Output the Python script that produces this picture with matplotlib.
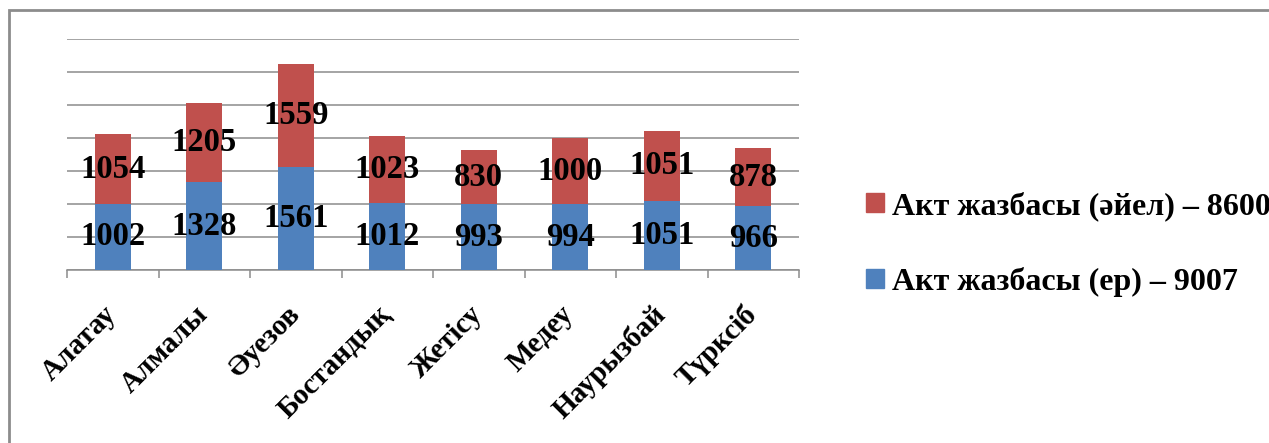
import numpy as np
import matplotlib.pyplot as plt
import matplotlib.transforms as mtransforms
from matplotlib.patches import Rectangle, Patch

plt.rcParams['font.family'] = ['Liberation Serif', 'DejaVu Serif']
plt.rcParams['font.weight'] = 'bold'

districts = ['Алатау', 'Алмалы', 'Әуезов', 'Бостандық', 'Жетісу', 'Медеу', 'Наурызбай', 'Түрксіб']
men = [1002, 1328, 1561, 1012, 993, 994, 1051, 966]
women = [1054, 1205, 1559, 1023, 830, 1000, 1051, 878]
men_label = 'Акт жазбасы (ер) – 9007'
women_label = 'Акт жазбасы (әйел) – 8600'

blue = '#4F81BD'
red = '#C0504D'
grid_col = '#8C8C8C'

fig = plt.figure(figsize=(12.69, 4.43), dpi=100)
ax = fig.add_axes([67 / 1269, 1 - 270 / 443, 732 / 1269, 231 / 443])

x = np.arange(len(districts))
w = 0.39
ax.bar(x, men, w, color=blue, zorder=2)
ax.bar(x, women, w, bottom=men, color=red, zorder=2)

for i in range(len(x)):
    ax.text(x[i], men[i] / 2, str(men[i]), ha='center', va='center',
            fontsize=23.5, fontweight='bold', zorder=3)
    ax.text(x[i], men[i] + women[i] / 2, str(women[i]), ha='center', va='center',
            fontsize=23.5, fontweight='bold', zorder=3)

ax.set_xlim(-0.5, len(x) - 0.5)
ax.set_ylim(0, 3500)
ax.set_yticks(np.arange(0, 3501, 500))
ax.yaxis.grid(True, color=grid_col, linewidth=1.1)
ax.tick_params(axis='y', left=False, labelleft=False)

for s in ['top', 'right', 'left']:
    ax.spines[s].set_visible(False)
ax.spines['bottom'].set_color(grid_col)
ax.spines['bottom'].set_linewidth(1.1)
ax.spines['bottom'].set_zorder(1)

ax.set_xticks(x)
ax.set_xticklabels(districts, rotation=45, ha='right', rotation_mode='anchor',
                   fontsize=21, fontweight='bold')
ax.tick_params(axis='x', which='major', length=0, pad=22)
# nudge the slanted district names a little to the left
shift = mtransforms.ScaledTranslation(-10 / 100, 0, fig.dpi_scale_trans)
for lab in ax.get_xticklabels():
    lab.set_transform(lab.get_transform() + shift)
ax.set_xticks(np.arange(-0.5, len(x)), minor=True)
ax.tick_params(axis='x', which='minor', length=6, color=grid_col, width=1.1)

handles = [Patch(color=red, label=women_label), Patch(color=blue, label=men_label)]
fig.legend(handles=handles, loc='center left', bbox_to_anchor=(850 / 1269, 1 - 244 / 443),
           frameon=False, prop={'size': 23, 'weight': 'bold'},
           handlelength=0.55, handleheight=0.55, handletextpad=0.28, labelspacing=1.45,
           borderpad=0)

fig.patches.append(Rectangle((9 / 1269, -0.1), 1.2, 1.1 - 10 / 443, transform=fig.transFigure,
                             fill=False, edgecolor=grid_col, linewidth=2, clip_on=False))

fig.savefig('out.png', dpi=100)
